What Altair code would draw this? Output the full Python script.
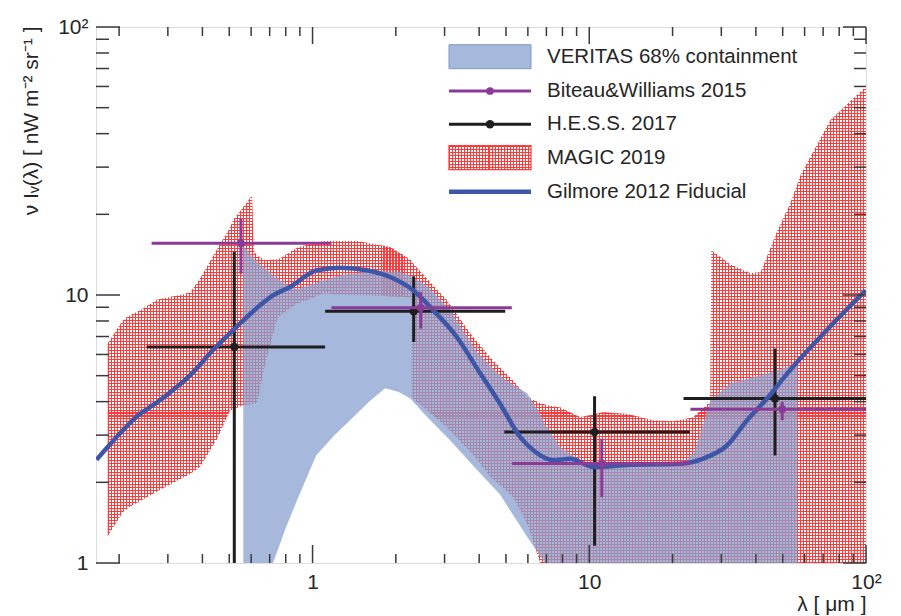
import math
import altair as alt
import pandas as pd

# ---------------- values ----------------
# Gilmore 2012 fiducial model
gil_lam = [0.1658, 0.196, 0.231, 0.281, 0.3605, 0.4365, 0.516, 0.6457, 0.72, 0.829,
           1.036, 1.257, 1.57, 1.906, 2.31, 2.66, 3.32, 4.04, 4.76, 5.63, 6.29, 7.43,
           8.54, 10.36, 13.68, 21.9, 25.8, 31.5, 37.2, 43.9, 51.9, 66.6, 99.6]
gil_val = [2.43, 2.95, 3.51, 4.05, 5.01, 6.22, 7.38, 9.15, 9.97, 10.71,
           12.37, 12.65, 12.37, 11.67, 10.41, 9.02, 6.97, 5.09, 3.93, 2.95, 2.63, 2.42,
           2.45, 2.28, 2.32, 2.35, 2.45, 2.75, 3.41, 4.11, 5.09, 6.78, 10.4]

# VERITAS 68% containment band
ver_lam = [0.562, 0.60, 0.65, 0.70, 0.72, 0.80, 0.88, 1.03, 1.2, 1.366, 1.6, 1.83, 2.05,
           2.25, 2.6, 3.14, 3.94, 4.76, 5.18, 5.97, 6.65, 6.92, 7.86, 9.28, 10.36, 13.68,
           21.9, 24.0, 27.4, 32.4, 38.2, 47.0, 56.5]
ver_lo = [0.5, 0.5, 0.6, 0.85, 1.0, 1.35, 1.72, 2.52, 3.0, 3.41, 4.0, 4.49, 4.35,
          4.12, 3.5, 2.87, 2.22, 1.8, 1.57, 1.25, 1.06, 1.0, 0.8, 0.8, 0.8, 0.8,
          0.8, 0.8, 0.8, 0.8, 0.8, 0.8, 0.8]
ver_hi = [15.3, 14.0, 12.9, 12.2, 11.8, 11.0, 10.5, 11.1, 11.7, 12.0, 12.2, 12.3, 12.2,
          11.8, 10.8, 8.8, 6.1, 5.0, 4.7, 4.3, 3.6, 3.3, 2.7, 2.42, 2.3, 2.32,
          2.35, 2.6, 4.05, 4.7, 4.9, 5.2, 5.55]

# MAGIC 2019 band
mag_lam = [0.182, 0.2064, 0.2188, 0.2377, 0.274, 0.3605, 0.392, 0.4515, 0.503, 0.516,
           0.562, 0.604, 0.614, 0.630, 0.673, 0.744, 0.763, 0.879, 0.955, 1.09, 1.449,
           1.907, 2.27, 2.28, 2.31, 3.06, 3.712, 4.04, 4.385, 5.31, 5.97, 6.65, 7.05,
           7.86, 9.28, 11.23, 13.72, 17.04, 20.13, 23.77, 26.72, 27.4, 27.6, 32.4, 38.2,
           41.6, 47.9, 53.3, 57.97, 74.4, 100.0]
mag_lo = [1.26, 1.55, 1.62, 1.70, 1.85, 2.15, 2.28, 2.9, 3.71, 3.75,
          3.88, 3.92, 3.93, 3.94, 5.5, 8.05, 8.4, 9.3, 9.55, 10.15, 9.97,
          9.9, 9.8, 4.17, 4.1, 3.21, 2.6, 2.35, 2.1, 1.76, 1.4, 1.0, 0.8,
          0.8, 0.8, 0.8, 0.8, 0.8, 0.8, 0.8, 0.8, 0.8, 0.8, 0.8, 0.8,
          0.8, 0.8, 0.8, 0.8, 0.8, 0.8]
mag_hi = [6.6, 8.05, 8.4, 8.75, 9.6, 10.2, 11.5, 14.8, 17.8, 19.0,
          21.3, 23.5, 14.7, 14.0, 13.5, 13.6, 13.7, 15.0, 15.4, 15.9, 15.9,
          15.1, 13.5, 13.4, 13.1, 9.55, 7.2, 6.5, 5.85, 4.8, 4.15, 3.95, 3.88,
          3.8, 3.5, 3.65, 3.6, 3.41, 3.38, 3.5, 3.9, 3.95, 14.7, 13.0, 12.05,
          12.15, 17.4, 22.0, 28.0, 45.0, 60.0]

# Biteau & Williams 2015
bw_lam = [0.551, 2.46, 11.1, 49.8]
bw_val = [15.6, 8.97, 2.35, 3.75]
bw_lo = [12.0, 7.49, 1.76, 3.41]
bw_hi = [19.3, 10.26, 2.91, 3.99]
bw_xlo = [0.262, 1.17, 5.25, 23.2]
bw_xhi = [1.17, 5.25, 23.2, 100.0]

# H.E.S.S. 2017
hs_lam = [0.5215, 2.32, 10.45, 46.9]
hs_val = [6.40, 8.70, 3.08, 4.11]
hs_lo = [0.5, 6.68, 1.16, 2.52]
hs_hi = [14.5, 11.74, 4.19, 6.31]
hs_xlo = [0.2514, 1.11, 4.93, 21.9]
hs_xhi = [1.11, 4.97, 23.1, 100.0]

# axis ticks
x_major = [1, 10, 100]
x_minor = [0.2, 0.3, 0.4, 0.5, 0.6, 0.7, 0.8, 0.9, 2, 3, 4, 5, 6, 7, 8, 9,
           20, 30, 40, 50, 60, 70, 80, 90]
y_major = [1, 10, 100]
y_minor = [2, 3, 4, 5, 6, 7, 8, 9, 20, 30, 40, 50, 60, 70, 80, 90]

legend_labels = ["VERITAS 68% containment", "Biteau&Williams 2015", "H.E.S.S. 2017",
                 "MAGIC 2019", "Gilmore 2012 Fiducial"]

x_title = "λ [ μm ]"
y_title = "ν Iᵥ(λ) [ nW m⁻² sr⁻¹ ]"

# ---------------- styling ----------------
W, H = 770, 536
XD = [0.165, 100]
YD = [1, 100]
FONT = "Liberation Sans"
TXT = "#262626"
FRAME = "#3a3a3a"
PURPLE = "#8a3b97"
BLACK = "#1e1e1e"
GIL = "#3d56a8"
VER = "#88a2d0"
RED = "#ff3a3a"
CLEAR = "rgba(255,255,255,0)"

xs = alt.Scale(type="log", domain=XD, nice=False)
ys = alt.Scale(type="log", domain=YD, nice=False)


def xpx(v):
    return W * (math.log10(v) - math.log10(XD[0])) / (math.log10(XD[1]) - math.log10(XD[0]))


def ypx(v):
    return H * (1 - (math.log10(v) - math.log10(YD[0])) / (math.log10(YD[1]) - math.log10(YD[0])))


def stripes(n, frac, vertical_lines):
    stops = []
    for i in range(n):
        a = round(i / n, 6)
        b = round((i + frac) / n, 6)
        c = round((i + 1) / n, 6)
        stops += [alt.GradientStop(color=RED, offset=a), alt.GradientStop(color=RED, offset=b),
                  alt.GradientStop(color=CLEAR, offset=b), alt.GradientStop(color=CLEAR, offset=c)]
    if vertical_lines:
        return alt.LinearGradient(gradient="linear", stops=stops, x1=0, x2=1, y1=0, y2=0)
    return alt.LinearGradient(gradient="linear", stops=stops, x1=0, x2=0, y1=0, y2=1)


PERIOD = 3.0
FRAC = 0.34
mag_w = xpx(max(mag_lam)) - xpx(min(mag_lam))
mag_h = ypx(min(mag_lo)) - ypx(max(mag_hi))
gx = stripes(max(1, round(mag_w / PERIOD)), FRAC, True)
gy = stripes(max(1, round(mag_h / PERIOD)), FRAC, False)

# ---------------- data frames ----------------
gil = pd.DataFrame({"lam": gil_lam, "val": gil_val})
ver = pd.DataFrame({"lam": ver_lam, "lo": ver_lo, "hi": ver_hi})
mag = pd.DataFrame({"lam": mag_lam, "lo": mag_lo, "hi": mag_hi})
bw = pd.DataFrame({"lam": bw_lam, "val": bw_val, "lo": bw_lo, "hi": bw_hi, "xlo": bw_xlo, "xhi": bw_xhi})
hs = pd.DataFrame({"lam": hs_lam, "val": hs_val, "lo": hs_lo, "hi": hs_hi, "xlo": hs_xlo, "xhi": hs_xhi})

LABEXPR = "datum.value >= 100 ? '10²' : (datum.value >= 10 ? '10' : '1')"
xaxis = alt.Axis(values=x_major, ticks=False, domain=False, grid=False, labelExpr=LABEXPR,
                 labelFont=FONT, labelFontSize=21, labelColor=TXT, labelPadding=8,
                 labelFlush=False, labelOverlap=False,
                 title=x_title, titleFont=FONT, titleFontSize=21, titleFontWeight="normal",
                 titleColor=TXT, titleX=W, titleY=41, titleAlign="right", titleBaseline="middle",
                 titleAngle=0)
yaxis = alt.Axis(values=y_major, ticks=False, domain=False, grid=False, labelExpr=LABEXPR,
                 labelFont=FONT, labelFontSize=21, labelColor=TXT, labelPadding=8,
                 labelFlush=False, labelOverlap=False,
                 title=y_title, titleFont=FONT, titleFontSize=21, titleFontWeight="normal",
                 titleColor=TXT, titleX=-65, titleY=-1, titleAlign="right", titleBaseline="middle",
                 titleAngle=270)

X = lambda f: alt.X(f, type="quantitative", scale=xs)
Y = lambda f: alt.Y(f, type="quantitative", scale=ys)

layers = []

# MAGIC mesh: two stripe layers forming a grid (first layer carries the axes)
layers.append(alt.Chart(mag).mark_area(fill=gx, strokeWidth=0, clip=True).encode(
    x=alt.X("lam:Q", scale=xs, axis=xaxis), y=alt.Y("lo:Q", scale=ys, axis=yaxis), y2="hi"))
layers.append(alt.Chart(mag).mark_area(fill=gy, strokeWidth=0, clip=True).encode(
    x=X("lam"), y=Y("lo"), y2="hi"))

# VERITAS band
layers.append(alt.Chart(ver).mark_area(color=VER, opacity=0.75, clip=True).encode(
    x=X("lam"), y=Y("lo"), y2="hi"))

# H.E.S.S. error bars + points
layers.append(alt.Chart(hs).mark_rule(color=BLACK, strokeWidth=3, clip=True).encode(
    x=X("xlo"), x2="xhi", y=Y("val")))
layers.append(alt.Chart(hs).mark_rule(color=BLACK, strokeWidth=3, clip=True).encode(
    x=X("lam"), y=Y("lo"), y2="hi"))
layers.append(alt.Chart(hs).mark_circle(color=BLACK, opacity=1, size=70, clip=True).encode(
    x=X("lam"), y=Y("val")))

# Gilmore line
layers.append(alt.Chart(gil).mark_line(color=GIL, strokeWidth=4.5, interpolate="monotone", clip=True).encode(
    x=X("lam"), y=Y("val")))

# Biteau & Williams error bars + points
layers.append(alt.Chart(bw).mark_rule(color=PURPLE, strokeWidth=3, clip=True).encode(
    x=X("xlo"), x2="xhi", y=Y("val")))
layers.append(alt.Chart(bw).mark_rule(color=PURPLE, strokeWidth=3, clip=True).encode(
    x=X("lam"), y=Y("lo"), y2="hi"))
layers.append(alt.Chart(bw).mark_circle(color=PURPLE, opacity=1, size=60, clip=True).encode(
    x=X("lam"), y=Y("val")))


# ticks (inward, ROOT style) on all four sides
def yticks(vals, x0, x1):
    return alt.Chart(pd.DataFrame({"v": vals})).mark_rule(color=FRAME, strokeWidth=1.5).encode(
        y=Y("v"), x=alt.value(x0), x2=alt.value(x1))


def xticks(vals, y0, y1):
    return alt.Chart(pd.DataFrame({"v": vals})).mark_rule(color=FRAME, strokeWidth=1.5).encode(
        x=X("v"), y=alt.value(y0), y2=alt.value(y1))


layers += [yticks(y_major, 0, 24), yticks(y_minor, 0, 13),
           yticks(y_major, W, W - 23), yticks(y_minor, W, W - 12),
           xticks(x_major, H, H - 18), xticks(x_minor, H, H - 9),
           xticks(x_major, 0, 17), xticks(x_minor, 0, 9)]

# legend
one = pd.DataFrame({"a": [0]})
LX0, LX1, LXC, LTX = 353, 435, 394, 451
rows = [29.7, 64.0, 97.3, 130.7, 164.7]
layers.append(alt.Chart(one).mark_rect(fill="#a6b9dc", stroke="#7f98cb", strokeWidth=1).encode(
    x=alt.value(LX0), x2=alt.value(LX1), y=alt.value(rows[0] - 12), y2=alt.value(rows[0] + 12)))
for r, col, sz in ((rows[1], PURPLE, 60), (rows[2], BLACK, 70)):
    layers.append(alt.Chart(one).mark_rule(color=col, strokeWidth=3).encode(
        x=alt.value(LX0), x2=alt.value(LX1), y=alt.value(r)))
    layers.append(alt.Chart(one).mark_circle(color=col, opacity=1, size=sz).encode(
        x=alt.value(LXC), y=alt.value(r)))
lgx = stripes(round((LX1 - LX0) / PERIOD), FRAC, True)
lgy = stripes(round(24 / PERIOD), FRAC, False)
for g in (lgx, lgy):
    layers.append(alt.Chart(one).mark_rect(fill=g).encode(
        x=alt.value(LX0), x2=alt.value(LX1), y=alt.value(rows[3] - 12), y2=alt.value(rows[3] + 12)))
layers.append(alt.Chart(one).mark_rect(stroke=RED, strokeWidth=1.2, filled=False).encode(
    x=alt.value(LX0), x2=alt.value(LX1), y=alt.value(rows[3] - 12), y2=alt.value(rows[3] + 12)))
layers.append(alt.Chart(one).mark_rule(color=GIL, strokeWidth=4.5).encode(
    x=alt.value(LX0), x2=alt.value(LX1), y=alt.value(rows[4])))
for r, lab in zip(rows, legend_labels):
    layers.append(alt.Chart(one).mark_text(text=lab, align="left", baseline="middle", font=FONT,
                                           fontSize=20.5, color=TXT).encode(
        x=alt.value(LTX), y=alt.value(r)))

chart = alt.layer(*layers).properties(
    width=W, height=H,
    padding={"left": 88, "top": 19, "right": 27, "bottom": 53},
    autosize=alt.AutoSizeParams(type="none"),
).configure_view(stroke=FRAME, strokeWidth=1.6).configure_axis(
    grid=False, ticks=False, domain=False
).configure(background="white")

chart.save("out.html", embed_options={"renderer": "svg", "actions": False})
